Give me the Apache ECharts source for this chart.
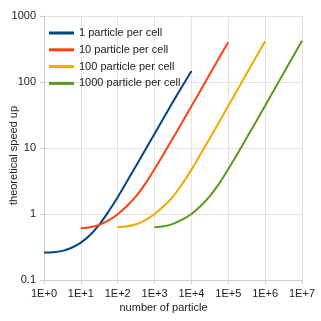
<!DOCTYPE html>
<html>
<head>
<meta charset="utf-8">
<script src="https://cdn.jsdelivr.net/npm/echarts@6/dist/echarts.min.js"></script>
<style>
  html, body { margin: 0; padding: 0; background: #fff; }
  #chart { width: 321px; height: 321px; }
</style>
</head>
<body>
<div id="chart"></div>
<script>
// decade exponents of the sample points (number of particle = 10^exp)
const blueExp = [0, 0.25, 0.5, 0.75, 1, 1.25, 1.5, 1.75, 2, 2.25, 2.5, 2.75, 3, 3.25, 3.5, 3.75, 4];
const redExp = [1, 1.25, 1.5, 1.75, 2, 2.25, 2.5, 2.75, 3, 3.25, 3.5, 3.75, 4, 4.25, 4.5, 4.75, 5];
const orangeExp = [2, 2.25, 2.5, 2.75, 3, 3.25, 3.5, 3.75, 4, 4.25, 4.5, 4.75, 5, 5.25, 5.5, 5.75, 6];
const greenExp = [3, 3.25, 3.5, 3.75, 4, 4.25, 4.5, 4.75, 5, 5.25, 5.5, 5.75, 6, 6.25, 6.5, 6.75, 7];

// theoretical speed up
const blueVals = [0.26, 0.263, 0.276, 0.308, 0.368, 0.48, 0.69, 1.09, 1.8, 3.1, 5.4, 9.4, 16.5, 28.8, 50, 86, 147];
const redVals = [0.61, 0.632, 0.685, 0.8, 0.99, 1.32, 1.86, 2.88, 4.8, 8.2, 14.2, 24.5, 43, 75, 132, 232, 400];
const orangeVals = [0.63, 0.65, 0.7, 0.81, 1.0, 1.32, 1.84, 2.85, 4.7, 8.1, 14.1, 24.6, 43.5, 76.5, 135, 237, 415];
const greenVals = [0.63, 0.65, 0.71, 0.82, 1.0, 1.32, 1.86, 2.88, 4.8, 8.2, 14.3, 24.8, 43.7, 77, 136, 239, 420];

const seriesNames = ['1 particle per cell', '10 particle per cell', '100 particle per cell', '1000 particle per cell'];
const seriesColors = ['#004586', '#ff420e', '#f2a900', '#579d1c'];
const xTickLabels = ['1E+0', '1E+1', '1E+2', '1E+3', '1E+4', '1E+5', '1E+6', '1E+7'];
const yTickLabels = ['0.1', '1', '10', '100', '1000'];
const xTitle = 'number of particle';
const yTitle = 'theoretical speed up';

const toPairs = (exps, vals) => exps.map((e, i) => [Math.pow(10, e), vals[i]]);
const allData = [
  toPairs(blueExp, blueVals),
  toPairs(redExp, redVals),
  toPairs(orangeExp, orangeVals),
  toPairs(greenExp, greenVals)
];

const font = "'Liberation Sans', Arial, sans-serif";
const textColor = '#222';

const chart = echarts.init(document.getElementById('chart'));
chart.setOption({
  animation: false,
  backgroundColor: '#fff',
  textStyle: { fontFamily: font },
  grid: { left: 44, right: 19, top: 16, bottom: 41 },
  legend: {
    orient: 'vertical',
    left: 49,
    top: 26,
    padding: 0,
    icon: 'rect',
    itemWidth: 25,
    itemHeight: 3,
    itemGap: 2.8,
    textStyle: { fontSize: 11, lineHeight: 14, color: textColor, fontFamily: font },
    data: seriesNames
  },
  // axis titles sit a little off-centre in the original, so place them by hand
  graphic: [
    {
      type: 'text', x: 163.5, y: 307.5,
      style: { text: xTitle, font: '11px ' + font, fill: textColor, align: 'center', verticalAlign: 'middle' }
    },
    {
      type: 'text', x: 14, y: 155.5, rotation: Math.PI / 2,
      style: { text: yTitle, font: '11px ' + font, fill: textColor, align: 'center', verticalAlign: 'middle' }
    }
  ],
  xAxis: {
    type: 'log',
    logBase: 10,
    min: 1,
    max: 1e7,
    axisLine: { lineStyle: { color: '#cfcfcf' } },
    axisTick: { show: true, length: 4, lineStyle: { color: '#cfcfcf' } },
    splitLine: { show: true, lineStyle: { color: '#e3e3e3' } },
    minorSplitLine: { show: false },
    axisLabel: {
      fontSize: 11, color: textColor, margin: 8, fontFamily: font,
      formatter: v => xTickLabels[Math.round(Math.log10(v))]
    }
  },
  yAxis: {
    type: 'log',
    logBase: 10,
    min: 0.1,
    max: 1000,
    axisLine: { show: true, lineStyle: { color: '#cfcfcf' } },
    axisTick: { show: true, length: 4, lineStyle: { color: '#cfcfcf' } },
    splitLine: { show: true, lineStyle: { color: '#e3e3e3' } },
    axisLabel: {
      fontSize: 11, color: textColor, margin: 8, fontFamily: font,
      formatter: v => yTickLabels[Math.round(Math.log10(v)) + 1]
    }
  },
  series: seriesNames.map((name, i) => ({
    name: name,
    type: 'line',
    data: allData[i],
    smooth: 0.3,
    showSymbol: false,
    symbol: 'none',
    color: seriesColors[i],
    lineStyle: { width: 2, color: seriesColors[i] }
  }))
});
</script>
</body>
</html>
